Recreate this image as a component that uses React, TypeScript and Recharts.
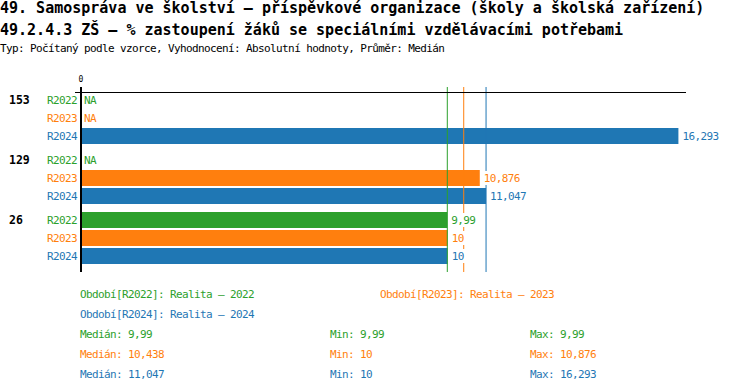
import { BarChart, Bar, XAxis, YAxis, ReferenceLine, LabelList } from 'recharts'

const titleLines = [
  '49. Samospráva ve školství – příspěvkové organizace (školy a školská zařízení)',
  '49.2.4.3 ZŠ – % zastoupení žáků se speciálními vzdělávacími potřebami',
]
const subtitle = 'Typ: Počítaný podle vzorce, Vyhodnocení: Absolutní hodnoty, Průměr: Medián'

const groups = ['153', '129', '26']
const r2022 = [null, null, 9.99]
const r2023 = [null, 10.876, 10]
const r2024 = [16.293, 11.047, 10]
const periods = ['R2022', 'R2023', 'R2024']
const periodNames = ['Realita – 2022', 'Realita – 2023', 'Realita – 2024']
const colors = ['#2ca02c', '#ff7f0e', '#1f77b4']
const xTicks = [0]
const xMax = 16.5

const series = [r2022, r2023, r2024]
const data = groups.map((g, i) => ({
  group: g,
  R2022: r2022[i],
  R2023: r2023[i],
  R2024: r2024[i],
}))

const MONO = '"DejaVu Sans Mono", monospace'
const small = { fontFamily: MONO, fontSize: 11, letterSpacing: -0.62 }

function fmt(v: number) {
  return String(Math.round(v * 1000) / 1000).replace('.', ',')
}

function median(vals: number[]) {
  const s = [...vals].sort((a, b) => a - b)
  const m = Math.floor(s.length / 2)
  return s.length % 2 ? s[m] : (s[m - 1] + s[m]) / 2
}

const stats = series.map((vals) => {
  const v = vals.filter((x): x is number => x != null)
  return { med: median(v), min: Math.min(...v), max: Math.max(...v) }
})

const GroupTick = ({ x, y, payload }: any) => {
  const row: any = data.find((d) => d.group === payload.value)
  return (
    <g>
      <text x={x - 68} y={y - 18} dy="0.35em" fill="#000" fontFamily={MONO} fontSize={11.5} fontWeight="bold">
        {payload.value}
      </text>
      {periods.map((p, k) => {
        const ry = y + (k - 1) * 18
        return (
          <g key={p}>
            <text x={x} y={ry} dy="0.35em" textAnchor="end" fill={colors[k]} style={small}>{p}</text>
            {row && row[p] == null && (
              <text x={x + 7} y={ry} dy="0.35em" fill={colors[k]} style={small}>NA</text>
            )}
          </g>
        )
      })}
    </g>
  )
}

const valueLabel = (color: string) => (props: any) => {
  const { x, y, width, height, value } = props
  if (value == null) return null
  const txt = fmt(value)
  const tx = x + width + 4
  const cy = y + height / 2
  return (
    <g>
      <rect x={tx - 2} y={cy - 7} width={txt.length * 6 + 4} height={14} fill="#fff" />
      <text x={tx} y={cy} dy="0.35em" fill={color} style={small}>{txt}</text>
    </g>
  )
}

// same plot box for the three stacked layers (bars / median lines / labels)
const overlayMargin = { top: 87, right: 64, bottom: 120, left: 81 }
const layer = { position: 'absolute' as const, left: 0, top: 0, pointerEvents: 'none' as const }

export default function App() {
  return (
    <div style={{ position: 'absolute', left: 0, top: 0, width: 750, height: 392, background: '#fff', fontFamily: MONO }}>
      <div style={{ position: 'absolute', left: 0, top: 1, fontSize: 15, lineHeight: '15px', fontWeight: 'bold', whiteSpace: 'pre' }}>
        {titleLines[0]}
      </div>
      <div style={{ position: 'absolute', left: 0, top: 23, fontSize: 15, lineHeight: '15px', fontWeight: 'bold', whiteSpace: 'pre' }}>
        {titleLines[1]}
      </div>
      <div style={{ position: 'absolute', left: 0, top: 43, ...small, lineHeight: '11px', whiteSpace: 'pre' }}>
        {subtitle}
      </div>

      {/* bars + axes */}
      <BarChart
        width={750}
        height={392}
        data={data}
        layout="vertical"
        margin={{ top: 59, right: 64, bottom: 120, left: 0 }}
        barSize={16}
        barGap={2}
        style={layer}
      >
        <XAxis
          type="number"
          orientation="top"
          domain={[0, xMax]}
          ticks={xTicks}
          height={28}
          axisLine={false}
          tickLine={false}
          tickSize={0}
          tickMargin={5}
          tick={{ fontSize: 8, fill: '#000', fontFamily: MONO }}
        />
        <YAxis
          type="category"
          dataKey="group"
          width={81}
          padding={{ top: 1, bottom: 4 }}
          axisLine={{ stroke: '#000', strokeWidth: 2 }}
          tickLine={false}
          tickSize={0}
          tickMargin={4}
          tick={<GroupTick />}
          interval={0}
        />
        {periods.map((p, k) => (
          <Bar key={p} dataKey={p} fill={colors[k]} isAnimationActive={false} />
        ))}
      </BarChart>

      {/* median lines on top of the bars */}
      <BarChart
        width={750}
        height={392}
        data={data}
        layout="vertical"
        margin={overlayMargin}
        barSize={16}
        barGap={2}
        style={layer}
      >
        <XAxis type="number" domain={[0, xMax]} hide />
        <YAxis type="category" dataKey="group" hide padding={{ top: 1, bottom: 4 }} />
        {periods.map((p) => (
          <Bar key={p} dataKey={p} fill="none" isAnimationActive={false} />
        ))}
        {stats.map((s, k) => (
          <ReferenceLine key={k} x={s.med} stroke={colors[k]} strokeWidth={1} />
        ))}
      </BarChart>

      {/* value labels on white boxes, above the lines */}
      <BarChart
        width={750}
        height={392}
        data={data}
        layout="vertical"
        margin={overlayMargin}
        barSize={16}
        barGap={2}
        style={layer}
      >
        <XAxis type="number" domain={[0, xMax]} hide />
        <YAxis type="category" dataKey="group" hide padding={{ top: 1, bottom: 4 }} />
        {periods.map((p, k) => (
          <Bar key={p} dataKey={p} fill="none" isAnimationActive={false}>
            <LabelList dataKey={p} content={valueLabel(colors[k])} />
          </Bar>
        ))}
      </BarChart>

      <div style={{ position: 'absolute', left: 75, top: 92, width: 611, height: 1, background: '#000' }} />

      <div style={{ position: 'absolute', left: 80, top: 289, color: colors[0], ...small, lineHeight: '11px', whiteSpace: 'pre' }}>
        {`Období[${periods[0]}]: ${periodNames[0]}`}
      </div>
      <div style={{ position: 'absolute', left: 380, top: 289, color: colors[1], ...small, lineHeight: '11px', whiteSpace: 'pre' }}>
        {`Období[${periods[1]}]: ${periodNames[1]}`}
      </div>
      <div style={{ position: 'absolute', left: 80, top: 309, color: colors[2], ...small, lineHeight: '11px', whiteSpace: 'pre' }}>
        {`Období[${periods[2]}]: ${periodNames[2]}`}
      </div>
      {stats.map((s, k) => (
        <div key={k}>
          <div style={{ position: 'absolute', left: 80, top: 329 + k * 20, color: colors[k], ...small, lineHeight: '11px', whiteSpace: 'pre' }}>
            {`Medián: ${fmt(s.med)}`}
          </div>
          <div style={{ position: 'absolute', left: 330, top: 329 + k * 20, color: colors[k], ...small, lineHeight: '11px', whiteSpace: 'pre' }}>
            {`Min: ${fmt(s.min)}`}
          </div>
          <div style={{ position: 'absolute', left: 530, top: 329 + k * 20, color: colors[k], ...small, lineHeight: '11px', whiteSpace: 'pre' }}>
            {`Max: ${fmt(s.max)}`}
          </div>
        </div>
      ))}
    </div>
  )
}
